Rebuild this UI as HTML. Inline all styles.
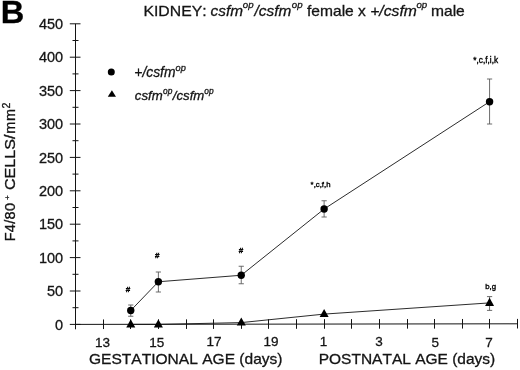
<!DOCTYPE html>
<html><head><meta charset="utf-8"><title>Figure B</title>
<style>
html,body{margin:0;padding:0;background:#fff;}
body{width:520px;height:370px;overflow:hidden;}
svg{display:block;}
text{font-family:"Liberation Sans",Arial,sans-serif;fill:#141414;stroke:#141414;stroke-width:0.3px;font-kerning:none;}
.it{font-style:italic;}
text.b{fill:#000;stroke:#000;}
.ann text{fill:#000;stroke:#000;stroke-width:0.35px;}
.ann text.h{stroke-width:0.4px;font-weight:bold;}
</style></head><body>
<svg width="520" height="370" viewBox="0 0 520 370">
<rect width="520" height="370" fill="#fff"/>
<text transform="translate(0.7,23.2) scale(1.035,1)" font-size="31.5" font-weight="bold" class="b">B</text>
<g transform="scale(1,0.93)">
<text x="143.4" y="16.7" font-size="15.8">KIDNEY:</text>
<text x="210.6" y="16.7" font-size="15.4" class="it">csfm</text>
<text x="242.8" y="8.4" font-size="9.7" class="it">op</text>
<text x="254.6" y="16.7" font-size="15.4" class="it">/csfm</text>
<text x="291.8" y="8.4" font-size="9.7" class="it">op</text>
<text x="307" y="16.7" font-size="15.6">female x</text>
<text x="370.2" y="16.7" font-size="15.7" class="it">+/csfm</text>
<text x="416.4" y="8.4" font-size="9.7" class="it">op</text>
<text x="431" y="16.7" font-size="15.6">male</text>
</g>
<g stroke="#141414" stroke-width="1" fill="none">
<path d="M75.50 23.80V329.30M75.50 324.40L517.50 323.80"/>
<path d="M69.80 324.40H80.50M72.50 307.70H78.50M69.80 291.00H80.50M72.50 274.30H78.50M69.80 257.60H80.50M72.50 240.90H78.50M69.80 224.20H80.50M72.50 207.50H78.50M69.80 190.80H80.50M72.50 174.10H78.50M69.80 157.40H80.50M72.50 140.70H78.50M69.80 124.00H80.50M72.50 107.30H78.50M69.80 90.60H80.50M72.50 73.90H78.50M69.80 57.20H80.50M72.50 40.50H78.50M69.80 23.80H80.50"/>
<path d="M103.50 319.46V329.06M130.50 319.43V329.02M158.50 319.39V328.99M186.50 319.35V328.95M213.50 319.31V328.91M241.50 319.27V328.87M268.50 319.24V328.84M296.50 319.20V328.80M324.50 319.16V328.76M351.50 319.12V328.72M379.50 319.09V328.69M407.50 319.05V328.65M434.50 319.01V328.61M462.50 318.98V328.57M489.50 318.94V328.54M517.50 318.90V328.50"/>
</g>
<g font-size="14.5" text-anchor="end">
<text x="63.2" y="329.60">0</text>
<text x="63.2" y="296.20">50</text>
<text x="63.2" y="262.80">100</text>
<text x="63.2" y="229.40">150</text>
<text x="63.2" y="196.00">200</text>
<text x="63.2" y="162.60">250</text>
<text x="63.2" y="129.20">300</text>
<text x="63.2" y="95.80">350</text>
<text x="63.2" y="62.40">400</text>
<text x="63.2" y="29.00">450</text>
</g>
<g font-size="13.5" text-anchor="middle">
<text x="102.5" y="347.3">13</text>
<text x="156.7" y="346.5">15</text>
<text x="213.9" y="346.1">17</text>
<text x="270.9" y="346.0">19</text>
<text x="323.6" y="346.4">1</text>
<text x="379.0" y="345.7">3</text>
<text x="435.3" y="346.7">5</text>
<text x="488.9" y="346.8">7</text>
</g>
<text x="89" y="364.2" font-size="15.55">GESTATIONAL AGE (days)</text>
<text x="318.7" y="364.2" font-size="15.5">POSTNATAL AGE (days)</text>
<g transform="translate(15.1,241.3) rotate(-90)" font-size="14.5"><text x="0" y="0" textLength="38.4" lengthAdjust="spacing">F4/80</text><text x="41.3" y="-5.3" font-size="8">+</text><text x="51.3" y="0" textLength="55.4" lengthAdjust="spacingAndGlyphs">CELLS/</text><text x="107.5" y="0" textLength="24.8" lengthAdjust="spacing">mm</text><text x="132.7" y="-4.9" font-size="10.6">2</text></g>
<circle cx="111.3" cy="72" r="3.5" fill="#000"/>
<path d="M107.8 96.8L111.9 90.3L116 96.8Z" fill="#000"/>
<g class="it" font-size="13.2">
<text x="134.3" y="76.9" font-size="13.85">+/csfm</text>
<text x="175.6" y="70.8" font-size="9.2">op</text>
<text x="134.8" y="99.6">csfm</text>
<text x="163" y="94.1" font-size="8.4">op</text>
<text x="172.8" y="99.6">/csfm</text>
<text x="204.3" y="94.1" font-size="8.4">op</text>
</g>
<g stroke="#141414" stroke-width="0.9" fill="none">
<polyline points="130.75,310.50 158.38,281.75 241.25,275.25 324.12,209.00 489.57,101.70"/>
<polyline points="130.75,324.40 158.38,324.40 241.25,322.60 324.12,314.10 489.57,302.90"/>
</g>
<g stroke="#5c5c5c" stroke-width="0.9" fill="none">
<path d="M130.75 305.00V316.25M128.15 305.00H133.35M128.15 316.25H133.35M158.38 272.00V292.00M155.78 272.00H160.97M155.78 292.00H160.97M241.25 266.25V283.75M238.65 266.25H243.85M238.65 283.75H243.85M324.12 200.75V217.00M321.52 200.75H326.73M321.52 217.00H326.73M489.57 79.00V124.00M486.97 79.00H492.18M486.97 124.00H492.18M489.57 296.60V310.40M486.97 296.60H492.18M486.97 310.40H492.18"/>
</g>
<circle cx="130.75" cy="310.50" r="3.7" fill="#000"/>
<circle cx="158.38" cy="281.75" r="3.7" fill="#000"/>
<circle cx="241.25" cy="275.25" r="3.7" fill="#000"/>
<circle cx="324.12" cy="209.00" r="3.7" fill="#000"/>
<circle cx="489.57" cy="101.70" r="3.7" fill="#000"/>
<path d="M126.25 327.40L130.75 319.20L135.25 327.40Z" fill="#000"/>
<path d="M153.88 327.40L158.38 319.20L162.88 327.40Z" fill="#000"/>
<path d="M236.75 325.60L241.25 317.40L245.75 325.60Z" fill="#000"/>
<path d="M319.62 317.10L324.12 308.90L328.62 317.10Z" fill="#000"/>
<path d="M485.07 305.90L489.57 297.70L494.07 305.90Z" fill="#000"/>
<g class="ann" font-size="7.8">
<text x="128.1" y="292" font-size="8" class="h" text-anchor="middle">#</text>
<text x="157.2" y="257.9" font-size="8" class="h" text-anchor="middle">#</text>
<text x="241.1" y="253.1" font-size="8" class="h" text-anchor="middle">#</text>
<text x="310.6" y="187.4" font-size="7.8">*,c,f,h</text>
<text x="473.3" y="63.3" font-size="8.25">*,c,f,i,k</text>
<text x="485.2" y="289.2">b,g</text>
</g>
</svg>
</body></html>
